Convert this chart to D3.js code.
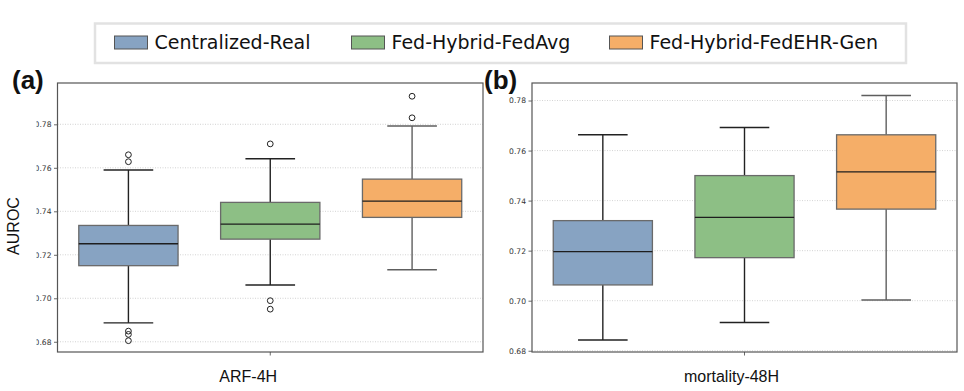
<!DOCTYPE html>
<html>
<head>
<meta charset="utf-8">
<script src="https://cdn.jsdelivr.net/npm/d3@7"></script>
<style>
  body { margin: 0; background: #fff; }
  svg { display: block; }
</style>
</head>
<body>
<div id="chart"></div>
<script>
var svgWidth = 964;
var svgHeight = 391;

// groups (hue) and tasks (one panel each)
var groups = ["Centralized-Real", "Fed-Hybrid-FedAvg", "Fed-Hybrid-FedEHR-Gen"];
var colors = ["#87a3c2", "#8dbf85", "#f5ae68"];
var tasks = ["ARF-4H", "mortality-48H"];
var panelTags = ["(a)", "(b)"];
var yTicks = [0.68, 0.70, 0.72, 0.74, 0.76, 0.78];

// ARF-4H box stats, one per group
var arfWhiskLo = [0.6887, 0.7061, 0.7131];
var arfQ1 = [0.7150, 0.7272, 0.7372];
var arfMedian = [0.7251, 0.7341, 0.7447];
var arfQ3 = [0.7335, 0.7441, 0.7548];
var arfWhiskHi = [0.7590, 0.7642, 0.7792];
var arfOutliers = [[0.7660, 0.7628, 0.6849, 0.6834, 0.6805], [0.7710, 0.6989, 0.6950], [0.7929, 0.7830]];

// mortality-48H box stats
var morWhiskLo = [0.6843, 0.6913, 0.7003];
var morQ1 = [0.7063, 0.7172, 0.7366];
var morMedian = [0.7196, 0.7333, 0.7515];
var morQ3 = [0.7320, 0.7500, 0.7663];
var morWhiskHi = [0.7663, 0.7692, 0.7820];
var morOutliers = [[], [], []];

function buildStats(lo, q1, med, q3, hi, out) {
  return groups.map(function(g, i) {
    return {group: g, lo: lo[i], q1: q1[i], med: med[i], q3: q3[i], hi: hi[i], out: out[i], color: colors[i], idx: i};
  });
}

var panels = [
  {task: tasks[0], tag: panelTags[0], left: 57.5, right: 483, yDomain: [0.6753, 0.799], clip: true,
   stats: buildStats(arfWhiskLo, arfQ1, arfMedian, arfQ3, arfWhiskHi, arfOutliers), labelShift: -22, tagX: 12},
  {task: tasks[1], tag: panelTags[1], left: 532, right: 957, yDomain: [0.6795, 0.787], clip: false,
   stats: buildStats(morWhiskLo, morQ1, morMedian, morQ3, morWhiskHi, morOutliers), labelShift: -13, tagX: 484}
];
var plotTop = 83, plotBottom = 352;

var svg = d3.select("#chart")
  .append("svg")
  .attr("width", svgWidth)
  .attr("height", svgHeight);

// left edge of the first panel's tick labels is cut off in the source
svg.append("defs").append("clipPath")
  .attr("id", "clipA")
  .append("rect")
  .attr("x", 36.5).attr("y", 0).attr("width", 40).attr("height", svgHeight);

panels.forEach(function(p) {
  var g = svg.append("g");

  var x = d3.scaleBand()
    .domain(groups)
    .range([p.left, p.right])
    .padding(0);
  var boxW = x.bandwidth() * 0.7;

  var y = d3.scaleLinear()
    .domain(p.yDomain)
    .range([plotBottom, plotTop]);

  // grid
  g.selectAll(".grid")
    .data(yTicks)
    .enter()
    .append("line")
    .attr("x1", p.left).attr("x2", p.right)
    .attr("y1", d => y(d)).attr("y2", d => y(d))
    .attr("stroke", "#c8c8c8")
    .attr("stroke-width", 0.8)
    .attr("stroke-dasharray", "1,1.5");

  // y axis ticks + labels
  var yAxis = d3.axisLeft(y)
    .tickValues(yTicks)
    .tickFormat(d3.format(".2f"))
    .tickSize(3.5)
    .tickPadding(2.5);
  var axisHolder = p.clip ? g.append("g").attr("clip-path", "url(#clipA)") : g;
  var yAxisG = axisHolder.append("g")
    .attr("transform", `translate(${p.left},0)`)
    .call(yAxis);
  yAxisG.select(".domain").remove();
  yAxisG.selectAll(".tick line").attr("stroke", "#444").attr("stroke-width", 0.8);
  yAxisG.selectAll(".tick text")
    .attr("fill", "#333")
    .style("font-family", "DejaVu Sans")
    .style("font-size", "7.6px");

  var boxes = g.selectAll(".box")
    .data(p.stats)
    .enter()
    .append("g")
    .attr("class", "box");

  var cx = d => x(d.group) + x.bandwidth() / 2;
  var lineCol = d => d.idx === 2 ? "#5e5e5e" : "#222";

  // whiskers and caps
  boxes.append("line")
    .attr("x1", cx).attr("x2", cx)
    .attr("y1", d => y(d.q3)).attr("y2", d => y(d.hi))
    .attr("stroke", lineCol).attr("stroke-width", 1.4);
  boxes.append("line")
    .attr("x1", cx).attr("x2", cx)
    .attr("y1", d => y(d.q1)).attr("y2", d => y(d.lo))
    .attr("stroke", lineCol).attr("stroke-width", 1.4);
  boxes.append("line")
    .attr("x1", d => cx(d) - boxW / 4).attr("x2", d => cx(d) + boxW / 4)
    .attr("y1", d => y(d.hi)).attr("y2", d => y(d.hi))
    .attr("stroke", lineCol).attr("stroke-width", 1.4);
  boxes.append("line")
    .attr("x1", d => cx(d) - boxW / 4).attr("x2", d => cx(d) + boxW / 4)
    .attr("y1", d => y(d.lo)).attr("y2", d => y(d.lo))
    .attr("stroke", lineCol).attr("stroke-width", 1.4);

  // box body
  boxes.append("rect")
    .attr("x", d => cx(d) - boxW / 2)
    .attr("width", boxW)
    .attr("y", d => y(d.q3))
    .attr("height", d => y(d.q1) - y(d.q3))
    .attr("fill", d => d.color)
    .attr("stroke", "#6a6a6a")
    .attr("stroke-width", 1.3);

  // median
  boxes.append("line")
    .attr("x1", d => cx(d) - boxW / 2).attr("x2", d => cx(d) + boxW / 2)
    .attr("y1", d => y(d.med)).attr("y2", d => y(d.med))
    .attr("stroke", "#1e1e1e").attr("stroke-width", 1.4);

  // outliers
  boxes.selectAll(".flier")
    .data(d => d.out.map(v => ({v: v, c: cx(d)})))
    .enter()
    .append("circle")
    .attr("cx", d => d.c)
    .attr("cy", d => y(d.v))
    .attr("r", 2.9)
    .attr("fill", "none")
    .attr("stroke", "#222")
    .attr("stroke-width", 1);

  // frame
  g.append("rect")
    .attr("x", p.left).attr("y", plotTop)
    .attr("width", p.right - p.left).attr("height", plotBottom - plotTop)
    .attr("fill", "none")
    .attr("stroke", "#555")
    .attr("stroke-width", 1.2);

  // single x tick at panel centre
  var mid = (p.left + p.right) / 2;
  g.append("line")
    .attr("x1", mid).attr("x2", mid)
    .attr("y1", plotBottom).attr("y2", plotBottom + 3.5)
    .attr("stroke", "#444").attr("stroke-width", 0.8);

  g.append("text")
    .attr("x", mid + p.labelShift)
    .attr("y", 382)
    .attr("text-anchor", "middle")
    .style("font-family", "Liberation Sans, Arial, sans-serif")
    .style("font-size", "16px")
    .attr("fill", "#111")
    .text(p.task);

  // panel tag
  g.append("text")
    .attr("x", p.tagX)
    .attr("y", 89)
    .style("font-family", "Liberation Sans, Arial, sans-serif")
    .style("font-size", "26px")
    .style("font-weight", "bold")
    .attr("fill", "#111")
    .text(p.tag);
});

// y label, left panel only
svg.append("text")
  .attr("transform", "translate(19,226) rotate(-90)")
  .attr("text-anchor", "middle")
  .style("font-family", "Liberation Sans, Arial, sans-serif")
  .style("font-size", "16px")
  .attr("fill", "#111")
  .text("AUROC");

// legend
var legend = svg.append("g");
legend.append("rect")
  .attr("x", 95).attr("y", 23.5)
  .attr("width", 811).attr("height", 39.5)
  .attr("fill", "#fff")
  .attr("stroke", "#e2e2e2")
  .attr("stroke-width", 2.5);

var legendX = [114.5, 351.5, 609.5];
var items = legend.selectAll(".item")
  .data(groups)
  .enter()
  .append("g")
  .attr("transform", (d, i) => `translate(${legendX[i]}, 36)`);
items.append("rect")
  .attr("width", 33).attr("height", 13)
  .attr("fill", (d, i) => colors[i])
  .attr("stroke", "#555")
  .attr("stroke-width", 1);
items.append("text")
  .attr("x", 40)
  .attr("y", 13.3)
  .style("font-family", "DejaVu Sans")
  .style("font-size", "19px")
  .attr("fill", "#111")
  .text(d => d);
</script>
</body>
</html>
